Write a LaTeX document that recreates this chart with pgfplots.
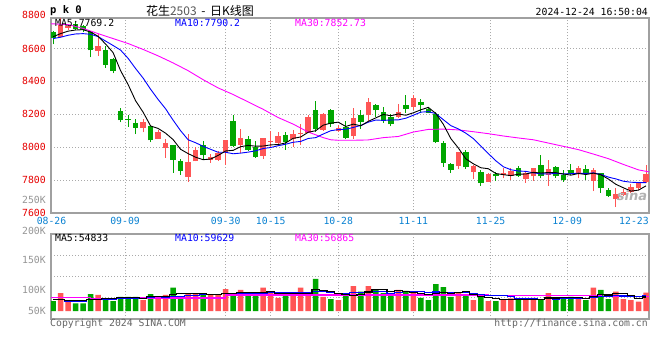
\documentclass[border=0pt]{standalone}
\usepackage{pgfplots}
\pgfplotsset{compat=1.18}
\usepackage{pgfplotstable}
\usepackage{fontspec}
\setmainfont{DejaVu Sans}
\newfontfamily\mono{DejaVu Sans Mono}
\newfontfamily\cjk{Noto Sans CJK SC}
\definecolor{cR}{RGB}{255,85,85}
\definecolor{cG}{RGB}{0,166,0}
\definecolor{cLab}{RGB}{230,0,0}
\definecolor{cDate}{RGB}{10,130,210}
\definecolor{cGrid}{RGB}{170,170,170}
\definecolor{cFrame}{RGB}{160,160,160}
\definecolor{cVol}{RGB}{150,150,150}
\definecolor{cMag}{RGB}{255,0,255}
\definecolor{cBlue}{RGB}{0,0,255}
\newcommand{\mf}{\mono\fontsize{9.8}{10}\selectfont}

% up (red) candles: index open close high low
\pgfplotstableread{
i o c h l
1 8672 8741 8788 8668
2 8727 8735 8745 8712
6 8586 8614 8686 8553
12 8117 8153 8172 8090
14 8051 8090 8102 8050
15 7995 8025 8050 7937
18 7821 7907 8082 7791
19 7913 7984 8001 7913
21 7923 7943 7958 7905
22 7924 7965 7979 7918
23 7973 8044 8044 7894
25 8014 8057 8112 7965
28 7949 8053 8057 7928
29 8033 8037 8097 8000
30 8024 8067 8091 8020
32 8051 8081 8105 8004
33 8081 8089 8142 8014
34 8089 8185 8193 8085
36 8107 8203 8207 8101
38 8097 8118 8132 8091
40 8065 8179 8240 8051
42 8193 8274 8298 8156
46 8183 8213 8264 8180
48 8244 8298 8315 8224
54 7884 7969 7973 7868
56 7848 7883 7890 7807
58 7791 7836 7842 7791
60 7832 7842 7876 7811
61 7822 7856 7872 7801
63 7807 7842 7852 7785
64 7822 7872 7876 7797
66 7832 7868 7923 7767
70 7838 7872 7886 7811
72 7795 7862 7872 7733
75 7685 7716 7750 7635
76 7710 7730 7745 7705
77 7726 7761 7775 7720
78 7750 7781 7790 7740
79 7787 7838 7891 7781
}\upc

% down (green) candles
\pgfplotstableread{
i o c h l
0 8698 8661 8703 8624
3 8747 8720 8760 8715
4 8735 8715 8745 8700
5 8700 8588 8705 8545
7 8592 8498 8616 8483
8 8535 8462 8540 8448
9 8222 8163 8240 8150
10 8174 8168 8198 8123
11 8147 8118 8172 8080
13 8131 8041 8137 8029
16 8011 7923 8015 7846
17 7917 7858 7929 7832
20 8015 7950 8039 7929
24 8157 8005 8195 8000
26 8051 7983 8065 7979
27 8000 7939 8040 7935
31 8075 8034 8091 7985
35 8228 8112 8281 8091
37 8228 8142 8230 8125
39 8122 8057 8158 8047
41 8193 8156 8228 8112
43 8258 8224 8260 8185
44 8213 8162 8244 8146
45 8183 8138 8203 8126
47 8258 8234 8319 8207
49 8274 8254 8295 8209
50 8234 8209 8238 8205
51 8203 8030 8213 8025
52 8026 7904 8040 7882
53 7898 7863 7904 7843
55 7973 7877 7983 7868
57 7852 7781 7862 7767
59 7838 7822 7852 7797
62 7872 7825 7886 7820
65 7893 7822 7954 7811
67 7879 7822 7886 7815
68 7828 7801 7862 7791
69 7862 7836 7899 7832
71 7868 7838 7893 7801
73 7842 7750 7842 7724
74 7740 7706 7750 7700
}\dnc

% price moving averages
\pgfplotstableread{
i m5 m10
0 8671 8660
1 8690 8668
2 8705 8680
3 8712 8688
4 8714 8690
5 8700 8686
6 8674 8672
7 8627 8645
8 8575 8618
9 8465 8590
10 8381 8540
11 8282 8478
12 8213 8420
13 8129 8352
14 8114 8290
15 8085 8233
16 8046 8164
17 7987 8100
18 7961 8045
19 7939 8027
20 7924 8005
21 7928 7987
22 7950 7969
23 7977 7969
24 7981 7960
25 8003 7964
26 8011 7970
27 8006 7978
28 8007 7992
29 8014 7998
30 8016 8009
31 8026 8018
32 8054 8030
33 8062 8035
34 8091 8053
35 8100 8058
36 8134 8080
37 8146 8100
38 8152 8107
39 8126 8109
40 8140 8120
41 8130 8132
42 8157 8152
43 8178 8165
44 8199 8163
45 8191 8165
46 8202 8166
47 8194 8176
48 8209 8194
49 8227 8213
50 8242 8216
51 8205 8204
52 8139 8167
53 8052 8131
54 7995 8111
55 7929 8085
56 7899 8052
57 7875 8007
58 7869 7961
59 7840 7917
60 7833 7881
61 7827 7863
62 7836 7855
63 7837 7853
64 7847 7844
65 7843 7838
66 7846 7837
67 7845 7841
68 7837 7837
69 7830 7839
70 7840 7842
71 7834 7840
72 7842 7844
73 7832 7834
74 7806 7818
75 7774 7807
76 7753 7793
77 7733 7787
78 7739 7785
79 7765 7785
}\pma

\pgfplotstableread{
i m30
-0.27 8750
2 8745
4 8722
6 8690
8 8660
10 8630
12 8594
14 8555
16 8512
18 8465
20 8410
22 8360
24 8320
26 8275
28 8230
30 8180
32 8140
34 8092
36 8058
37 8045
38 8042
40 8042
42 8044
44 8058
46 8065
48 8092
50 8108
52 8110
54 8105
56 8094
58 8082
60 8068
62 8056
64 8045
66 8025
68 8005
70 7985
72 7958
74 7930
76 7895
78 7862
79.4 7850
}\pmathirty

% volume (thousands)
\pgfplotstableread{
i v
1 70
2 39
6 63
12 43
14 59
15 63
18 70
19 66
21 63
22 63
23 86
25 83
28 92
29 76
30 52
32 63
33 92
34 70
36 56
38 43
40 98
42 98
46 83
48 70
54 70
56 43
58 39
60 47
61 50
63 43
64 52
66 70
70 50
72 92
75 76
76 47
77 43
78 37
79 72
}\vred

\pgfplotstableread{
i v
0 39
3 30
4 30
5 66
7 50
8 39
9 56
10 56
11 56
13 66
16 92
17 56
20 63
24 63
26 63
27 66
31 63
35 126
37 47
39 59
41 76
43 83
44 70
45 63
47 79
49 52
50 43
51 106
52 94
53 56
55 60
57 59
59 39
62 43
65 47
67 43
68 52
69 56
71 43
73 83
74 47
}\vgreen

\pgfplotstableread{
i m5 m10
0 45 44
1 44 44
2 43 38
3 42 38
4 41.6 38
5 47 46
6 45.6 46
7 47.8 46
8 49.6 46
9 54.8 48.2
10 52.8 49.9
11 51.4 48.5
12 50 48.9
13 55.4 52.5
14 56 55.4
15 57.4 55.1
16 64.6 58
17 67.2 58.6
18 68 61.7
19 69.4 62.7
20 69.4 63.4
21 63.6 64.1
22 65 66.1
23 68.2 68.1
24 67.6 68.5
25 71.6 70.5
26 71.6 67.6
27 72.2 68.6
28 73.4 70.8
29 76 71.8
30 69.8 70.7
31 69.8 70.7
32 69.2 70.7
33 69.2 71.3
34 68 72
35 82.8 76.3
36 81.4 75.6
37 78.2 73.7
38 68.4 68.8
39 66.2 67.1
40 60.6 71.7
41 64.6 73
42 74.8 76.5
43 82.8 75.6
44 85 75.6
45 78 69.3
46 79.4 72
47 75.6 75.2
48 73 77.9
49 69.4 77.2
50 65.4 71.7
51 70 74.7
52 73 74.3
53 70.2 71.6
54 73.8 71.6
55 77.2 71.3
56 64.6 67.3
57 57.6 65.3
58 54.2 62.2
59 48 60.9
60 45.4 61.3
61 46.8 55.7
62 43.6 50.6
63 44.4 49.3
64 47 47.5
65 47 46.2
66 51 48.9
67 51 47.3
68 52.8 48.6
69 53.6 50.3
70 54.2 50.6
71 48.8 49.9
72 58.6 54.8
73 64.8 58.8
74 63 58.3
75 68.2 61.2
76 69 58.9
77 59.2 58.9
78 50 57.4
79 55 59
}\vma

\pgfplotstableread{
i m30
-0.27 53
5 50
11 51
23 63
58 60
73 57
79.4 57
}\vmathirty

\begin{document}
\begin{tikzpicture}[x=1pt,y=1pt]
\path[use as bounding box, fill=white] (0pt,0pt) rectangle (660pt,360pt);

% ---------------- price panel ----------------
\begin{axis}[
  at={(51pt,147pt)}, anchor=south west, scale only axis,
  width=598pt, height=195pt,
  xmin=-0.27, xmax=79.4, ymin=7600, ymax=8785,
  axis line style={draw=cFrame, line width=1.2pt},
  xtick={-0.2,9.6,23,29,38,48,58.3,68.5},
  xticklabels={08-26,09-09,09-30,10-15,10-28,11-11,11-25,12-09},
  extra x ticks={77.4}, extra x tick labels={12-23},
  extra x tick style={grid=none},
  ytick={7600,7800,8000,8200,8400,8600},
  yticklabels={7600,7800,8000,8200,8400,8600},
  major tick length=0pt,
  xmajorgrids, ymajorgrids,
  grid style={draw=cGrid, line width=0.8pt, dash pattern=on 1pt off 2pt},
  xticklabel style={font=\mf, text=cDate, anchor=center, yshift=-8pt},
  yticklabel style={font=\mf, text=cLab, anchor=east, inner sep=0pt, xshift=-5pt},
]
% wicks
\addplot[draw=none, forget plot, error bars/.cd, y dir=plus, y explicit, error mark=none,
  error bar style={draw=cR, solid, line width=1pt}]
  table[x=i, y=l, y error expr={\thisrow{h}-\thisrow{l}}] \upc;
\addplot[draw=none, forget plot, error bars/.cd, y dir=plus, y explicit, error mark=none,
  error bar style={draw=cG, solid, line width=1pt}]
  table[x=i, y=l, y error expr={\thisrow{h}-\thisrow{l}}] \dnc;
% bodies
\addplot[draw=none, forget plot, error bars/.cd, y dir=plus, y explicit, error mark=none,
  error bar style={draw=cR, solid, line width=5.5pt}]
  table[x=i, y=o, y error expr={max(\thisrow{c}-\thisrow{o},6)}] \upc;
\addplot[draw=none, forget plot, error bars/.cd, y dir=plus, y explicit, error mark=none,
  error bar style={draw=cG, solid, line width=5.5pt}]
  table[x=i, y=c, y error expr={max(\thisrow{o}-\thisrow{c},6)}] \dnc;
% moving averages
\addplot[cMag, line width=0.9pt, mark=none] table[x=i, y=m30] \pmathirty;
\addplot[cBlue, line width=0.9pt, mark=none] table[x=i, y=m10] \pma;
\addplot[black, line width=0.9pt, mark=none] table[x=i, y=m5] \pma;
\end{axis}

% ---------------- volume panel ----------------
\begin{axis}[
  at={(51pt,41pt)}, anchor=south west, scale only axis,
  width=598pt, height=85pt,
  xmin=-0.27, xmax=79.4, ymin=-31.4, ymax=302.6,
  axis line style={draw=cFrame, line width=1.2pt},
  xtick={9.6,23,29,38,48,58.3,68.5}, xticklabels={},
  ytick={52.1,135.6,219.1}, yticklabels={},
  major tick length=0pt,
  xmajorgrids, ymajorgrids,
  grid style={draw=cGrid, line width=0.8pt, dash pattern=on 1pt off 2pt},
]
\addplot[ybar, bar width=5.5pt, bar shift=0pt, fill=cR, draw=none] table[x=i, y=v] \vred;
\addplot[ybar, bar width=5.5pt, bar shift=0pt, fill=cG, draw=none] table[x=i, y=v] \vgreen;
\addplot[cMag, line width=1.1pt, const plot, mark=none] table[x=i, y=m30] \vmathirty;
\addplot[cBlue, line width=1.1pt, const plot mark mid, mark=none] table[x=i, y=m10] \vma;
\addplot[black, line width=1.1pt, const plot mark mid, mark=none] table[x=i, y=m5] \vma;
\end{axis}

% ---------------- texts ----------------
\node[anchor=west, inner sep=0pt] at (50pt,349pt) {\mono\bfseries\fontsize{10.5}{11}\selectfont p k 0};
\node[inner sep=0pt] at (200pt,349pt) {\cjk\fontsize{12}{12}\selectfont 花生\textcolor{black!65}{2503} \,-\, 日K线图};
\node[anchor=east, inner sep=0pt] at (648pt,348pt) {\mf 2024-12-24 16:50:04};
\node[anchor=east, inner sep=0pt, text=cLab] at (46pt,345pt) {\mf 8800};

\node[anchor=west, inner sep=0pt] at (55pt,337pt) {\mf MA5:7769.2};
\node[anchor=west, inner sep=0pt, text=cBlue] at (175pt,337pt) {\mf MA10:7790.2};
\node[anchor=west, inner sep=0pt, text=cMag] at (295pt,337pt) {\mf MA30:7852.73};

\node[anchor=west, inner sep=0pt] at (55pt,122pt) {\mf MA5:54833};
\node[anchor=west, inner sep=0pt, text=cBlue] at (175pt,122pt) {\mf MA10:59629};
\node[anchor=west, inner sep=0pt, text=cMag] at (295pt,122pt) {\mf MA30:56865};

\node[anchor=east, inner sep=0pt, text=cVol] at (46pt,160pt) {\mf 250K};
\node[anchor=east, inner sep=0pt, text=cVol] at (46pt,129pt) {\mf 200K};
\node[anchor=east, inner sep=0pt, text=cVol] at (46pt,100pt) {\mf 150K};
\node[anchor=east, inner sep=0pt, text=cVol] at (46pt,70pt) {\mf 100K};
\node[anchor=east, inner sep=0pt, text=cVol] at (46pt,49pt) {\mf 50K};

\node[anchor=west, inner sep=0pt, text=black!60] at (50pt,36pt) {\mf Copyright 2024 SINA.COM};
\node[anchor=east, inner sep=0pt, text=black!60] at (648pt,36pt) {\mf http://finance.sina.com.cn};

\node[inner sep=0pt, text=black!30] at (632pt,164pt) {\bfseries\itshape\fontsize{13}{13}\selectfont sina};
\end{tikzpicture}
\end{document}
